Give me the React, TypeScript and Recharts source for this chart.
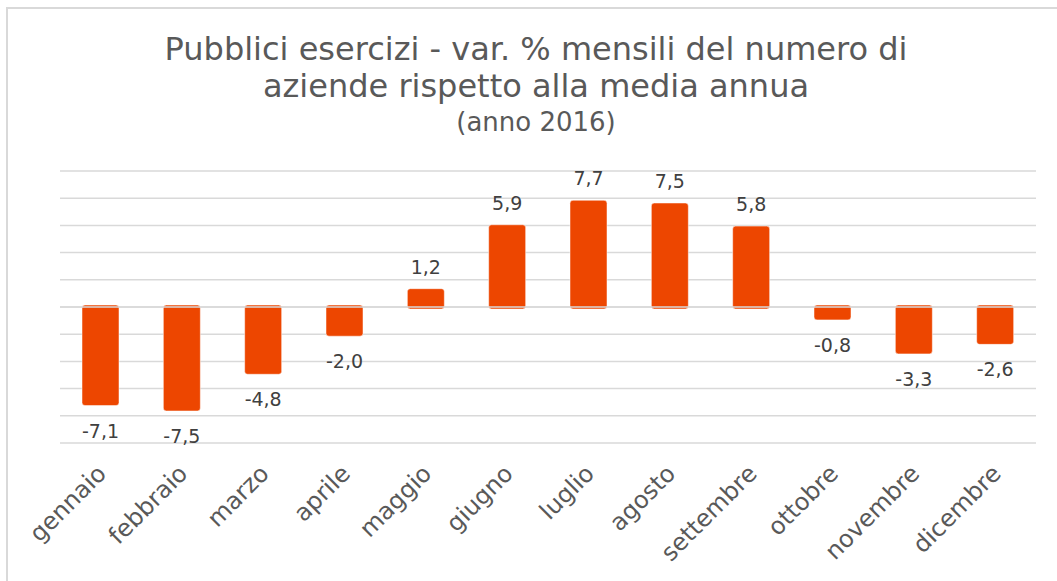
import React from "react";
import {
  BarChart, Bar, XAxis, YAxis, CartesianGrid, ReferenceLine, LabelList, Rectangle,
} from "recharts";

const months = [
  "gennaio", "febbraio", "marzo", "aprile", "maggio", "giugno",
  "luglio", "agosto", "settembre", "ottobre", "novembre", "dicembre",
];
const variations = [-7.1, -7.5, -4.8, -2.0, 1.2, 5.9, 7.7, 7.5, 5.8, -0.8, -3.3, -2.6];
const yTicks = [-10, -8, -6, -4, -2, 0, 2, 4, 6, 8, 10];

const titleLines = [
  "Pubblici esercizi - var. % mensili del numero di",
  "aziende rispetto alla media annua",
];
const subtitle = "(anno 2016)";

const data = months.map((m, i) => ({ month: m, value: variations[i] }));

const FONT = "'DejaVu Sans', Verdana, sans-serif";
const PAD = 2; // Excel bars poke a little past both ends

// rotated month labels, anchored at their end like Excel does
function MonthTick(props: any) {
  const { x, y, payload } = props;
  return (
    <g transform={`translate(${x + 7},${y + 24})`}>
      <text
        x={0}
        y={0}
        textAnchor="end"
        transform="rotate(-45)"
        fill="#595959"
        fontSize={24}
        fontFamily={FONT}
      >
        {payload.value}
      </text>
    </g>
  );
}

function PaddedBar(props: any) {
  const { x, y, width, height } = props;
  const top = Math.min(y, y + height) - PAD;
  const h = Math.abs(height) + PAD * 2;
  return (
    <Rectangle
      x={x}
      y={top}
      width={width}
      height={h}
      radius={3}
      fill="#ED4600"
      stroke="#ffffff"
      strokeWidth={0.5}
    />
  );
}

// value above positive bars, below negative ones
function ValueLabel(props: any) {
  const { x, y, width, height, value } = props;
  const top = Math.min(y, y + height) - PAD;
  const bottom = Math.max(y, y + height) + PAD;
  const ty = value >= 0 ? top - 15 : bottom + 32;
  return (
    <text
      x={x + width / 2}
      y={ty}
      textAnchor="middle"
      fill="#404040"
      fontSize={19}
      fontFamily={FONT}
    >
      {Number(value).toFixed(1).replace(".", ",")}
    </text>
  );
}

// gridlines at every tick value, placed with the y axis scale
function gridRows(args: any) {
  const scale = args?.yAxis?.scale;
  if (!scale) return [];
  const map = (v: number) => {
    if (typeof scale === "function") return scale(v);
    if (typeof scale.map === "function") return scale.map(v);
    return undefined;
  };
  return yTicks.map(map).filter((p) => typeof p === "number" && !isNaN(p));
}

export default function App() {
  return (
    <div style={{ position: "absolute", left: 0, top: 0, width: 1057, height: 581, background: "#fff", overflow: "hidden" }}>
      <div
        style={{
          position: "absolute", left: 6, top: 7, width: 1049, height: 572,
          borderLeft: "2px solid #d9d9d9", borderTop: "2px solid #d9d9d9",
        }}
      />
      <div
        style={{
          position: "absolute", left: 15, top: 31, width: 1042,
          textAlign: "center", fontFamily: FONT, color: "#595959",
        }}
      >
        {titleLines.map((t) => (
          <div key={t} style={{ fontSize: 32, lineHeight: "37px" }}>{t}</div>
        ))}
        <div style={{ fontSize: 26, lineHeight: "35px" }}>{subtitle}</div>
      </div>
      <div style={{ position: "absolute", left: 0, top: 0 }}>
        <BarChart
          width={1057}
          height={581}
          data={data}
          margin={{ top: 171, right: 21, bottom: 8, left: 60 }}
        >
          <CartesianGrid
            vertical={false}
            horizontalCoordinatesGenerator={gridRows}
            stroke="#d9d9d9"
            strokeWidth={1.5}
          />
          <YAxis
            domain={[-10, 10]}
            ticks={yTicks}
            interval={0}
            width={0}
            tick={false}
            axisLine={false}
            tickLine={false}
          />
          <XAxis
            dataKey="month"
            height={130}
            axisLine={false}
            tickLine={false}
            interval={0}
            tick={<MonthTick />}
          />
          <Bar
            dataKey="value"
            fill="#ED4600"
            barSize={37}
            shape={<PaddedBar />}
            isAnimationActive={false}
          >
            <LabelList dataKey="value" content={<ValueLabel />} />
          </Bar>
          <ReferenceLine y={0} stroke="#d9d9d9" strokeWidth={1.5} />
        </BarChart>
      </div>
    </div>
  );
}
